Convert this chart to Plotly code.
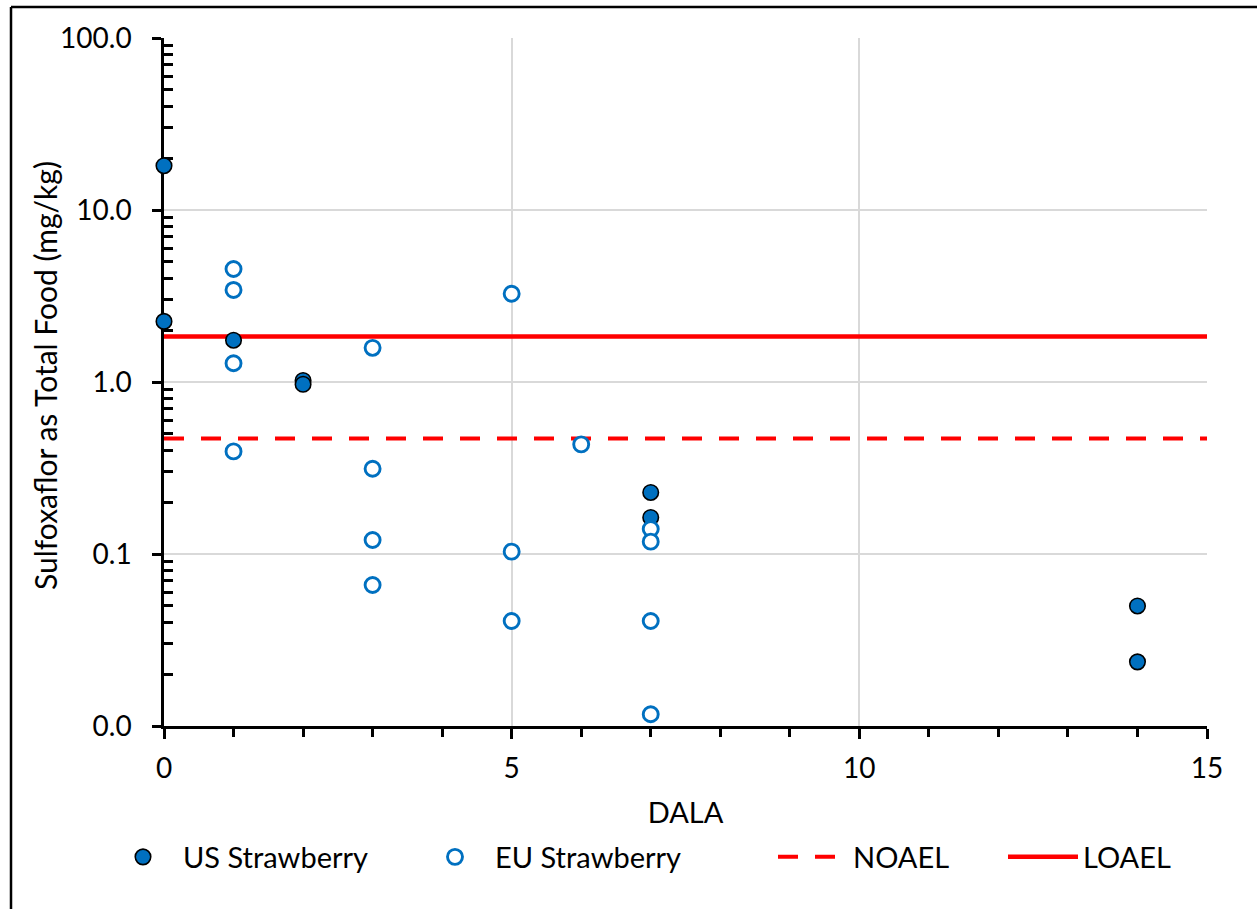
import plotly.graph_objects as go

# Residue data: days after last application (DALA) vs. residue level
us_dala = [0, 0, 1, 2, 2, 7, 7, 14, 14]
us_residue = [18.1, 2.25, 1.75, 1.02, 0.97, 0.228, 0.163, 0.0499, 0.0236]

eu_dala = [1, 1, 1, 1, 3, 3, 3, 3, 5, 5, 5, 6, 7, 7, 7, 7]
eu_residue = [4.54, 3.43, 1.285, 0.395, 1.58, 0.313, 0.1206, 0.066,
              3.26, 0.1032, 0.0408, 0.434, 0.1397, 0.118, 0.0408, 0.0117]

# Reference effect levels (mg/kg)
noael_level = 0.47
loael_level = 1.84
threshold_span = [0, 15]

# Axis ticks
y_tickvals = [0.01, 0.1, 1, 10, 100]
y_ticktext = ["0.0", "0.1", "1.0", "10.0", "100.0"]
y_minor_vals = [m * 10 ** e for e in range(-2, 2) for m in range(2, 10)]

BLUE = "#0070C0"
RED = "#FF0000"
FONT = "Lato"
TICK_SIZE = 28
TEXT_SIZE = 29

fig = go.Figure()

fig.add_trace(go.Scatter(
    x=threshold_span, y=[noael_level, noael_level], mode="lines", name="NOAEL",
    line=dict(color=RED, width=4, dash="20px,17px"), legend="legend3",
    hoverinfo="skip",
))
fig.add_trace(go.Scatter(
    x=threshold_span, y=[loael_level, loael_level], mode="lines", name="LOAEL",
    line=dict(color=RED, width=4.5), legend="legend4", hoverinfo="skip",
))
fig.add_trace(go.Scatter(
    x=us_dala, y=us_residue, mode="markers", name="US Strawberry",
    marker=dict(size=15.5, color=BLUE, line=dict(color="black", width=1.6)),
    cliponaxis=False, legend="legend",
))
fig.add_trace(go.Scatter(
    x=eu_dala, y=eu_residue, mode="markers", name="EU Strawberry",
    marker=dict(size=15, color="white", line=dict(color=BLUE, width=2.9)),
    cliponaxis=False, legend="legend2",
))

W, H = 1257, 909
ML, MR, MT, MB = 164, 50, 38, 183
pw, ph = W - ML - MR, H - MT - MB


def px_x(px):
    return (px - ML) / pw


def px_y(py):
    return (H - MB - py) / ph


legend_common = dict(
    orientation="h", font=dict(family=FONT, size=TEXT_SIZE, color="black"),
    bgcolor="rgba(0,0,0,0)", borderwidth=0, itemwidth=70,
    yanchor="middle", y=px_y(857), xanchor="left",
)

fig.update_layout(
    width=W, height=H,
    margin=dict(l=ML, r=MR, t=MT, b=MB),
    paper_bgcolor="white", plot_bgcolor="white",
    font=dict(family=FONT, size=TEXT_SIZE, color="black"),
    showlegend=True,
    legend=dict(legend_common, x=px_x(103)),
    legend2=dict(legend_common, x=px_x(415)),
    legend3=dict(legend_common, x=px_x(773)),
    legend4=dict(legend_common, x=px_x(1003)),
    xaxis=dict(
        range=[0, 15], tickmode="array", tickvals=[0, 5, 10, 15],
        showline=True, linecolor="black", linewidth=2.5,
        ticks="outside", ticklen=10, tickwidth=2.5, tickcolor="black",
        minor=dict(dtick=1, ticks="outside", ticklen=8, tickwidth=2.5,
                   tickcolor="black", showgrid=False),
        showgrid=True, gridcolor="#D9D9D9", gridwidth=1.5,
        zeroline=False, ticklabelstandoff=6,
        tickfont=dict(family=FONT, size=TICK_SIZE),
        title=dict(text="DALA", font=dict(family=FONT, size=TEXT_SIZE),
                   standoff=20),
        layer="below traces",
    ),
    yaxis=dict(
        type="log", range=[-2, 2], tickmode="array",
        tickvals=y_tickvals, ticktext=y_ticktext,
        showline=True, linecolor="black", linewidth=2.5,
        ticks="outside", ticklen=9, tickwidth=2.5, tickcolor="black",
        minor=dict(tickvals=y_minor_vals, ticks="inside", ticklen=9,
                   tickwidth=2.5, tickcolor="black", showgrid=False),
        showgrid=True, gridcolor="#D9D9D9", gridwidth=1.5,
        zeroline=False, ticklabelstandoff=15,
        tickfont=dict(family=FONT, size=TICK_SIZE),
        layer="below traces",
    ),
    yaxis2=dict(
        type="log", range=[-2, 2], overlaying="y", anchor="x", side="left",
        tickmode="array", tickvals=y_tickvals, showticklabels=False,
        ticks="inside", ticklen=9, tickwidth=2.5, tickcolor="black",
        showgrid=False, showline=False, zeroline=False, layer="below traces",
    ),
    annotations=[
        dict(text="Sulfoxaflor as Total Food (mg/kg)", textangle=-90,
             xref="paper", yref="paper", x=px_x(45), y=px_y(376),
             xanchor="center", yanchor="middle", showarrow=False,
             font=dict(family=FONT, size=30, color="black")),
    ],
    shapes=[
        dict(type="line", xref="paper", yref="paper",
             x0=px_x(11), x1=px_x(11), y0=px_y(7), y1=px_y(950),
             line=dict(color="black", width=2.5)),
        dict(type="line", xref="paper", yref="paper",
             x0=px_x(11), x1=px_x(1300), y0=px_y(7), y1=px_y(7),
             line=dict(color="black", width=2.5)),
    ],
)

fig.write_html("out.html")
